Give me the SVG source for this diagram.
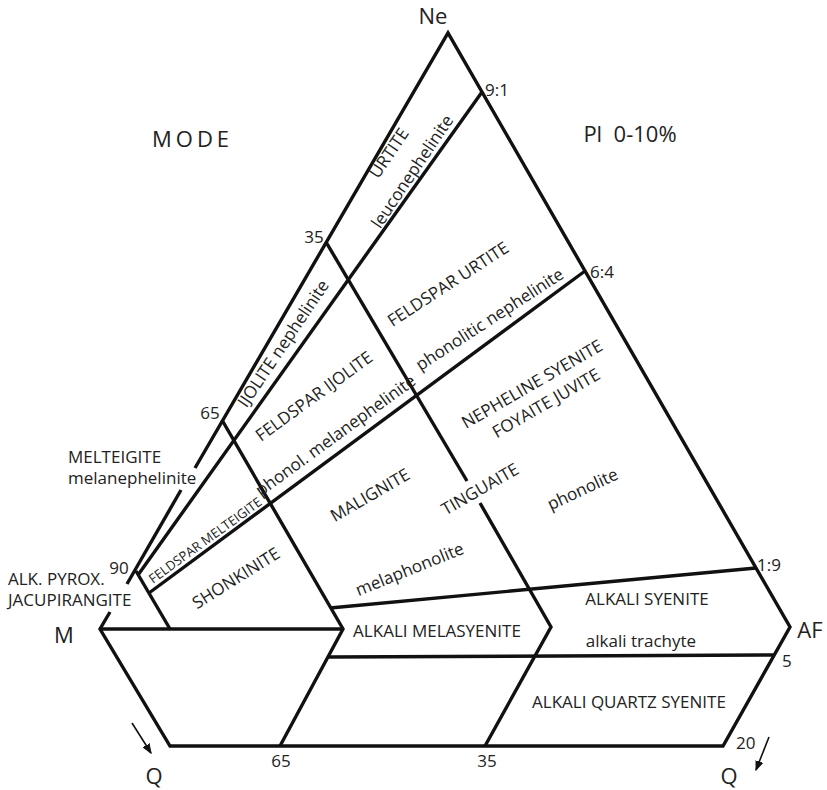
<svg xmlns="http://www.w3.org/2000/svg" width="827" height="790" viewBox="0 0 827 790">
<defs>
<style>
.ln{fill:none;stroke:#111;stroke-width:3.4;stroke-linejoin:miter;stroke-linecap:butt}
.ar{fill:none;stroke:#111;stroke-width:1.6}
text{font-family:"Open Sans","Noto Sans",sans-serif;fill:#222}
.big{font-size:22px}
.num{font-size:17px}
.lab{font-size:17px}
.rot{font-size:17px;text-anchor:middle}
.sm{font-size:13px;text-anchor:middle}
</style>
<marker id="ah" markerWidth="10" markerHeight="10" refX="9" refY="5" orient="auto" markerUnits="userSpaceOnUse">
<path d="M0,1.5 L9,5 L0,8.5 Z" fill="#111" stroke="#111" stroke-width="1"/>
</marker>
</defs>
<g id="connectors">
<path class="ln" d="M195,468 L448,33 L790,627 L723,746 L170,746 L100,629 L110,612"/>
<path class="ln" d="M181,490 L127,584"/>
<path class="ln" d="M100,629 L343,629"/>
<path class="ln" d="M222,420 L343,629 L280,746"/>
<path class="ln" d="M326,242 L467,481"/>
<path class="ln" d="M480,503 L551,627 L485,746"/>
<path class="ln" d="M136,571 L170,629"/>
<path class="ln" d="M482,92 L138,575"/>
<path class="ln" d="M585,271 L149,593"/>
<path class="ln" d="M756,568 L330,608"/>
<path class="ln" d="M329,657 L775,655"/>
<path class="ar" d="M132,723 L151,753" marker-end="url(#ah)"/>
<path class="ar" d="M769,737 L756,770" marker-end="url(#ah)"/>
</g>
<g id="vertices">
<text class="big" x="433" y="24" text-anchor="middle">Ne</text>
<text class="big" x="64" y="643" text-anchor="middle">M</text>
<text class="big" x="810" y="638" text-anchor="middle">AF</text>
<text class="big" x="154" y="784" text-anchor="middle">Q</text>
<text class="big" x="729" y="784" text-anchor="middle">Q</text>
</g>
<g id="titles">
<text class="big" x="152" y="147" letter-spacing="4" font-size="24">MODE</text>
<text class="big" x="630" y="142" text-anchor="middle" xml:space="preserve">Pl  0-10%</text>
</g>
<g id="ticks">
<text class="num" x="485" y="96">9:1</text>
<text class="num" x="590" y="278">6:4</text>
<text class="num" x="757" y="571">1:9</text>
<text class="num" x="782" y="667">5</text>
<text class="num" x="736" y="749">20</text>
<text class="num" x="314" y="243" text-anchor="middle">35</text>
<text class="num" x="210" y="419" text-anchor="middle">65</text>
<text class="num" x="119" y="574" text-anchor="middle">90</text>
<text class="num" x="281" y="767" text-anchor="middle">65</text>
<text class="num" x="487" y="767" text-anchor="middle">35</text>
</g>
<g id="urtite"><text class="rot" transform="translate(389,153) rotate(-56)" y="6">URTITE</text></g>
<g id="leuconephelinite"><text class="rot" transform="translate(413,172) rotate(-56)" y="5">leuconephelinite</text></g>
<g id="ijolite"><text class="rot" transform="translate(284,344) rotate(-56)" y="5">IJOLITE nephelinite</text></g>
<g id="feldspar-urtite"><text class="rot" transform="translate(448,284) rotate(-33)" y="6">FELDSPAR URTITE</text></g>
<g id="phonolitic-nephelinite"><text class="rot" transform="translate(490,320) rotate(-33)" y="5">phonolitic nephelinite</text></g>
<g id="feldspar-ijolite"><text class="rot" transform="translate(314,396) rotate(-36)" y="6">FELDSPAR IJOLITE</text></g>
<g id="phonol-melanephelinite"><text class="rot" transform="translate(336,436) rotate(-36)" y="5">phonol. melanephelinite</text></g>
<g id="nepheline-syenite"><text class="rot" transform="translate(532,384) rotate(-30)" y="6">NEPHELINE SYENITE</text>
<text class="rot" transform="translate(546,403) rotate(-30)" y="6">FOYAITE JUVITE</text></g>
<g id="malignite"><text class="rot" transform="translate(370,495) rotate(-30)" y="6">MALIGNITE</text></g>
<g id="tinguaite"><text class="rot" transform="translate(480,489) rotate(-30)" y="6">TINGUAITE</text></g>
<g id="phonolite"><text class="rot" transform="translate(583,490) rotate(-25)" y="5">phonolite</text></g>
<g id="melaphonolite"><text class="rot" transform="translate(410,570) rotate(-22)" y="5">melaphonolite</text></g>
<g id="shonkinite"><text class="rot" transform="translate(236,578) rotate(-32)" y="6">SHONKINITE</text></g>
<g id="feldspar-melteigite"><text class="sm" transform="translate(205,540) rotate(-36)" y="5">FELDSPAR MELTEIGITE</text></g>
<g id="melteigite"><text class="lab" x="68" y="463">MELTEIGITE</text>
<text class="lab" x="68" y="484">melanephelinite</text></g>
<g id="jacupirangite"><text class="lab" x="8" y="585">ALK. PYROX.</text>
<text class="lab" x="8" y="606">JACUPIRANGITE</text></g>
<g id="alkali-syenite"><text class="lab" x="647" y="605" text-anchor="middle">ALKALI SYENITE</text>
<text class="lab" x="641" y="647" text-anchor="middle">alkali trachyte</text></g>
<g id="alkali-melasyenite"><text class="lab" x="437" y="637" text-anchor="middle">ALKALI MELASYENITE</text></g>
<g id="alkali-quartz-syenite"><text class="lab" x="629" y="708" text-anchor="middle">ALKALI QUARTZ SYENITE</text></g>
</svg>
